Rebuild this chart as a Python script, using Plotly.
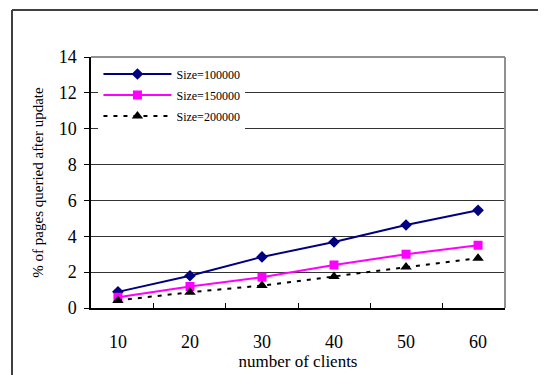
import plotly.graph_objects as go

clients = ["10", "20", "30", "40", "50", "60"]
size_100000 = [0.9, 1.8, 2.85, 3.68, 4.63, 5.45]
size_150000 = [0.6, 1.2, 1.72, 2.4, 3.0, 3.5]
size_200000 = [0.42, 0.88, 1.25, 1.75, 2.28, 2.78]
y_ticks = [0, 2, 4, 6, 8, 10, 12, 14]

FONT = "Liberation Serif, Times New Roman, serif"

fig = go.Figure()
fig.add_trace(go.Scatter(x=clients, y=size_100000, name="Size=100000", mode="lines+markers",
                         legendgroup="a",
                         line=dict(color="#000080", width=2),
                         marker=dict(symbol="diamond", size=9, color="#000080")))
fig.add_trace(go.Scatter(x=clients, y=size_150000, name="Size=150000", mode="lines+markers",
                         legendgroup="b",
                         line=dict(color="#FF00FF", width=2),
                         marker=dict(symbol="square", size=9, color="#FF00FF")))
fig.add_trace(go.Scatter(x=clients, y=size_200000, name="Size=200000", mode="lines+markers",
                         legendgroup="c",
                         line=dict(color="#000000", width=2, dash="4px,6px"),
                         marker=dict(symbol="triangle-up", size=10, color="#000000")))

# page body has an 8px margin, so the figure is 8px smaller and offset
W, H = 538, 367
L, R, T, B = 83, 41, 49, 67
pw, ph = W - L - R, H - T - B

def px_to_paper_x(px):
    return (px - 8 - L) / pw

def px_to_paper_y(py):
    return (H - B - (py - 8)) / ph

fx = px_to_paper_x(12)
fy = px_to_paper_y(10)
# outer frame (left and top edges)
fig.add_shape(type="line", xref="paper", yref="paper", x0=fx, x1=fx, y0=-0.4, y1=fy,
              line=dict(color="#404040", width=2))
fig.add_shape(type="line", xref="paper", yref="paper", x0=fx, x1=1.3, y0=fy, y1=fy,
              line=dict(color="#404040", width=2))
# gray top/right plot-area border
fig.add_shape(type="line", xref="paper", yref="paper", x0=0, x1=1, y0=1, y1=1,
              line=dict(color="#909090", width=2))
fig.add_shape(type="line", xref="paper", yref="paper", x0=1, x1=1, y0=0, y1=1,
              line=dict(color="#909090", width=2))

fig.update_layout(
    width=W, height=H,
    margin=dict(l=L, r=R, t=T, b=B, autoexpand=False),
    paper_bgcolor="white", plot_bgcolor="white",
    font=dict(family=FONT, color="black"),
    showlegend=True,
    legend=dict(x=0.018, y=0.99, xanchor="left", yanchor="top", bgcolor="white",
                font=dict(family=FONT, size=12, color="black"), itemwidth=68,
                tracegroupgap=2),
    xaxis=dict(type="category", automargin=False, showline=True, linecolor="black", linewidth=1.5,
               ticks="inside", tickson="boundaries", ticklen=5, tickcolor="black",
               showgrid=False, tickfont=dict(family=FONT, size=18), ticklabelstandoff=17,
               title=dict(text="number of clients", font=dict(family=FONT, size=17), standoff=4)),
    yaxis=dict(range=[0, 14], tickvals=y_ticks, automargin=False, showline=True, linecolor="black", linewidth=1.5,
               ticks="outside", ticklen=5, tickcolor="black", ticklabelstandoff=4,
               showgrid=True, gridcolor="#333333", gridwidth=1, zeroline=False,
               tickfont=dict(family=FONT, size=18),
               title=dict(text="% of pages queried after update", font=dict(family=FONT, size=15), standoff=11)),
)

fig.write_html("out.html")
